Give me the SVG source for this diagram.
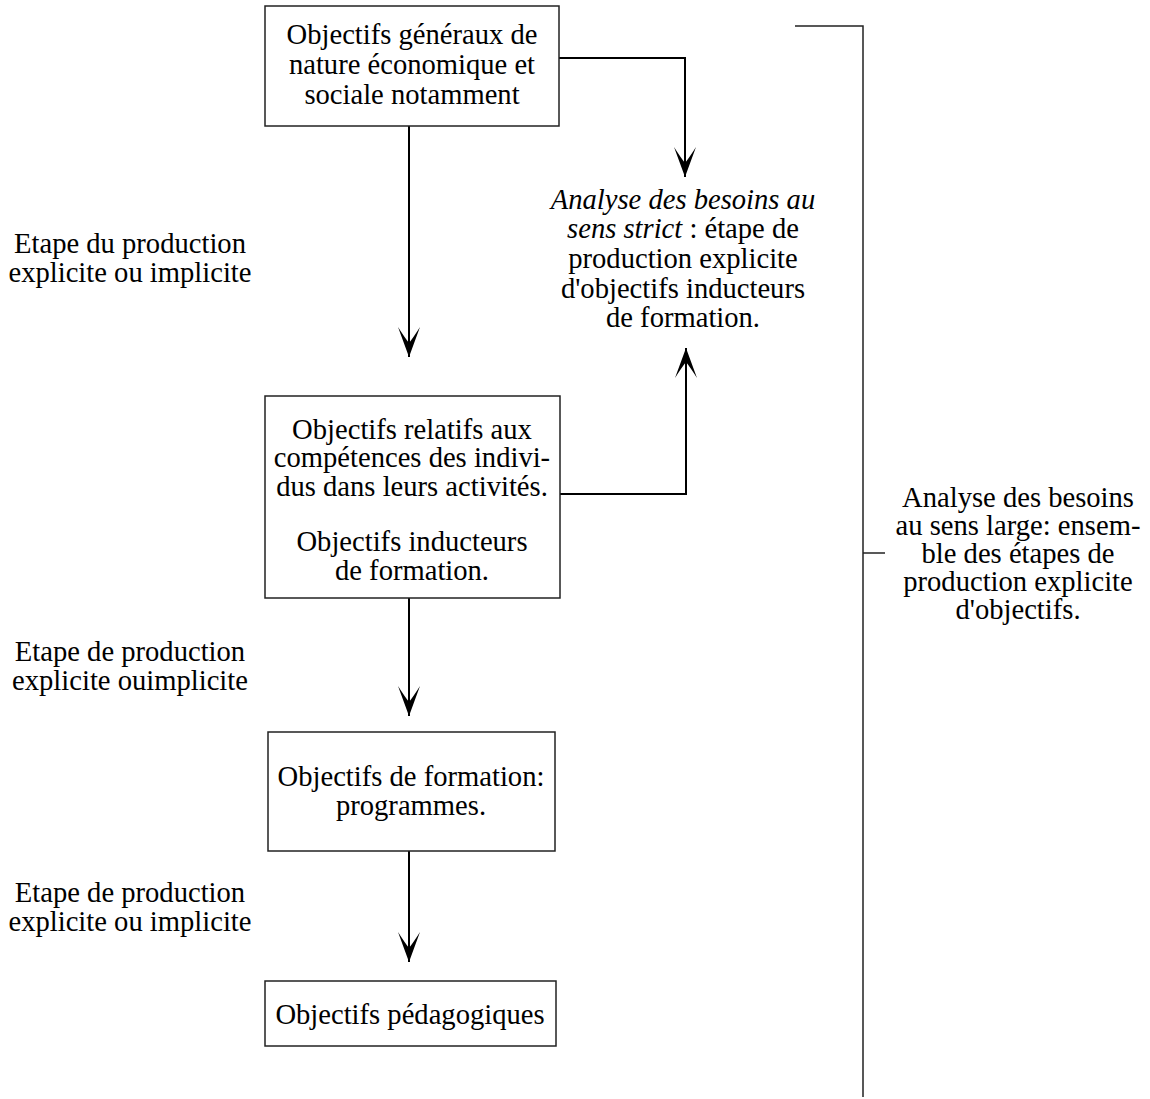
<svg xmlns="http://www.w3.org/2000/svg" width="1150" height="1099" viewBox="0 0 1150 1099">
  <style>
    .box { fill: #ffffff; stroke: #222222; stroke-width: 1.5; }
    .t { font-family: "Liberation Serif", "Times New Roman", serif; font-size: 28.6px; fill: #000000; text-anchor: middle; }
    .it { font-style: italic; }
    .wire { fill: none; stroke: #000000; stroke-width: 2; }
    .thin { fill: none; stroke: #222222; stroke-width: 1.5; }
  </style>
  <defs>
    <marker id="barb" markerUnits="userSpaceOnUse" markerWidth="34" markerHeight="26" viewBox="-32 -13 34 26" refX="0" refY="0" orient="auto">
      <path d="M0,0 L-30,-11 Q-19,-4 -14,0 Q-19,4 -30,11 Z" fill="#000000"/>
    </marker>
  </defs>

  <rect width="1150" height="1099" fill="#ffffff"/>

  <!-- connectors -->
  <g id="connectors">
    <path class="wire" d="M409,126 V357" marker-end="url(#barb)"/>
    <path class="wire" d="M409,598 V716" marker-end="url(#barb)"/>
    <path class="wire" d="M409,851 V962" marker-end="url(#barb)"/>
    <path class="wire" d="M559,58 H685 V177" marker-end="url(#barb)"/>
    <path class="wire" d="M560,494 H686 V348" marker-end="url(#barb)"/>
    <!-- bracket spanning the whole analysis -->
    <path class="thin" d="M795,26 H863 V1097"/>
    <path class="thin" d="M863,553 H885"/>
  </g>

  <g id="node-generaux">
    <rect class="box" x="265" y="6" width="294" height="120"/>
    <text class="t" x="412" y="44">Objectifs généraux de</text>
    <text class="t" x="412" y="74">nature économique et</text>
    <text class="t" x="412" y="104">sociale notamment</text>
  </g>

  <g id="node-competences">
    <rect class="box" x="265" y="396" width="295" height="202"/>
    <text class="t" x="412" y="439">Objectifs relatifs aux</text>
    <text class="t" x="412" y="467">compétences des indivi-</text>
    <text class="t" x="412" y="496">dus dans leurs activités.</text>
    <text class="t" x="412" y="551">Objectifs inducteurs</text>
    <text class="t" x="412" y="580">de formation.</text>
  </g>

  <g id="node-formation">
    <rect class="box" x="268" y="732" width="287" height="119"/>
    <text class="t" x="411" y="786">Objectifs de formation:</text>
    <text class="t" x="411" y="815">programmes.</text>
  </g>

  <g id="node-pedagogiques">
    <rect class="box" x="265" y="981" width="291" height="65"/>
    <text class="t" x="410" y="1024">Objectifs pédagogiques</text>
  </g>

  <g id="label-strict">
    <text class="t" x="683" y="209"><tspan class="it">Analyse des besoins au</tspan></text>
    <text class="t" x="683" y="238"><tspan class="it">sens strict</tspan> : étape de</text>
    <text class="t" x="683" y="268">production explicite</text>
    <text class="t" x="683" y="298">d'objectifs inducteurs</text>
    <text class="t" x="683" y="327">de formation.</text>
  </g>

  <g id="label-large">
    <text class="t" x="1018" y="507">Analyse des besoins</text>
    <text class="t" x="1018" y="535">au sens large: ensem-</text>
    <text class="t" x="1018" y="563">ble des étapes de</text>
    <text class="t" x="1018" y="591">production explicite</text>
    <text class="t" x="1018" y="619">d'objectifs.</text>
  </g>

  <g id="label-step1">
    <text class="t" x="130" y="253">Etape du production</text>
    <text class="t" x="130" y="282">explicite ou implicite</text>
  </g>

  <g id="label-step2">
    <text class="t" x="130" y="661">Etape de production</text>
    <text class="t" x="130" y="690">explicite ouimplicite</text>
  </g>

  <g id="label-step3">
    <text class="t" x="130" y="902">Etape de production</text>
    <text class="t" x="130" y="931">explicite ou implicite</text>
  </g>
</svg>
